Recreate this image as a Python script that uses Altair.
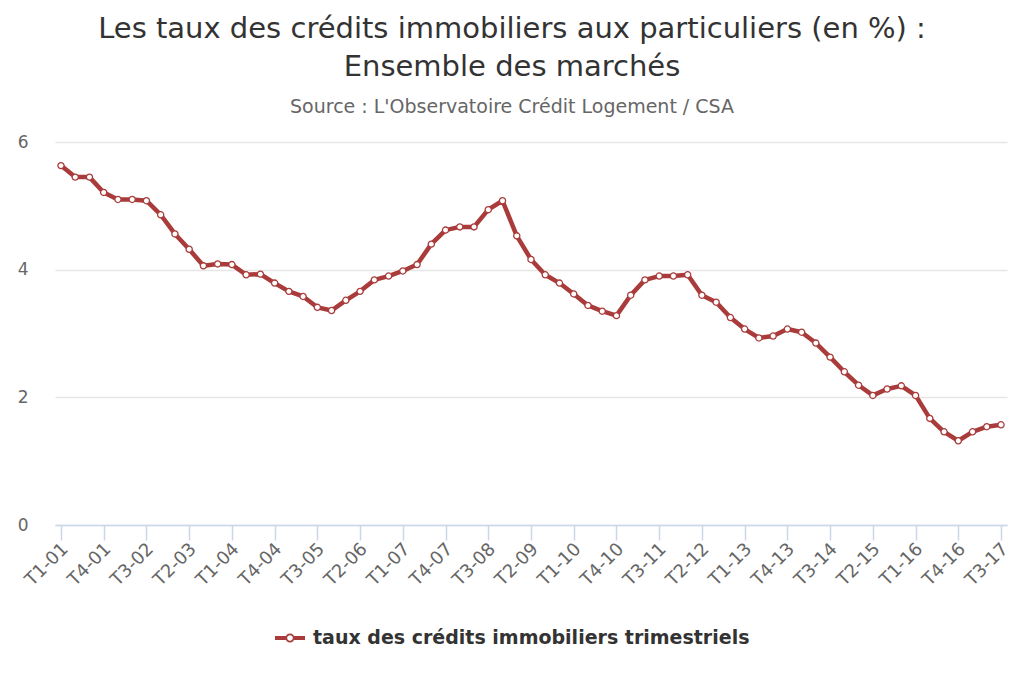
import altair as alt
import pandas as pd

years = list(range(2001, 2018))
quarters = [f"T{q}-{y % 100:02d}" for y in years for q in (1, 2, 3, 4)][:67]

taux = [
    5.63, 5.45, 5.45, 5.21, 5.10, 5.10, 5.08, 4.86, 4.56, 4.32,
    4.06, 4.09, 4.08, 3.92, 3.93, 3.79, 3.66, 3.58, 3.41, 3.36,
    3.52, 3.66, 3.84, 3.90, 3.98, 4.08, 4.40, 4.62, 4.67, 4.67,
    4.94, 5.08, 4.53, 4.16, 3.92, 3.79, 3.62, 3.44, 3.35, 3.28,
    3.60, 3.84, 3.90, 3.90, 3.92, 3.60, 3.49, 3.25, 3.07, 2.93,
    2.96, 3.07, 3.02, 2.85, 2.63, 2.40, 2.19, 2.03, 2.13, 2.18,
    2.03, 1.67, 1.46, 1.32, 1.46, 1.54, 1.57,
]
tick_labels = quarters[::3]
y_ticks = [0, 2, 4, 6]
serie = "taux des crédits immobiliers trimestriels"

df = pd.DataFrame({"trimestre": quarters, "taux": taux, "serie": serie})

RED = "#aa3b3b"
FONT = "DejaVu Sans"

LEGEND_PATH = (
    "M-1,-0.14 L-0.28,-0.14 L-0.28,0.14 L-1,0.14 Z "
    "M0.28,-0.14 L1,-0.14 L1,0.14 L0.28,0.14 Z "
    "M0.3,0 A0.3,0.3 0 1,1 -0.3,0 A0.3,0.3 0 1,1 0.3,0 Z "
    "M0.19,0 A0.19,0.19 0 1,0 -0.19,0 A0.19,0.19 0 1,0 0.19,0 Z"
)

x_enc = alt.X(
    "trimestre:O",
    sort=quarters,
    scale=alt.Scale(type="point", padding=0.42),
    axis=alt.Axis(
        title=None,
        values=tick_labels,
        labelAngle=-45,
        labelAlign="right",
        labelBaseline="middle",
        labelFont=FONT,
        labelFontSize=18,
        labelColor="#666666",
        labelPadding=6,
        labelOffset=4,
        domainColor="#ccd6eb",
        domainWidth=1.5,
        tickColor="#ccd6eb",
        tickSize=15,
        tickWidth=1.5,
        grid=False,
    ),
)
y_enc = alt.Y(
    "taux:Q",
    scale=alt.Scale(domain=[0, 6], nice=False),
    axis=alt.Axis(
        title=None,
        values=y_ticks,
        labelFont=FONT,
        labelFontSize=17,
        labelColor="#666666",
        labelPadding=27,
        domain=False,
        ticks=False,
        gridColor="#e6e6e6",
        gridWidth=1.5,
    ),
)

line = alt.Chart(df).mark_line(strokeWidth=4.5, strokeJoin="round").encode(
    x=x_enc,
    y=y_enc,
    color=alt.Color(
        "serie:N",
        scale=alt.Scale(range=[RED]),
        legend=alt.Legend(
            title=None,
            orient="none",
            legendX=220,
            legendY=481,
            symbolType=LEGEND_PATH,
            symbolSize=900,
            symbolFillColor=RED,
            symbolStrokeColor=RED,
            symbolStrokeWidth=0,
            labelFont=FONT,
            labelFontSize=19,
            labelFontWeight="bold",
            labelColor="#333333",
            labelOffset=8,
            labelLimit=0,
            padding=0,
        ),
    ),
)

points = alt.Chart(df).mark_point(
    filled=True, fill="white", stroke=RED, strokeWidth=1.3, size=38, opacity=1
).encode(x=x_enc, y=y_enc)

chart = (
    alt.layer(line, points)
    .properties(
        width=952,
        height=383,
        background="white",
        autosize=alt.AutoSizeParams(type="none"),
        padding={"left": 47, "top": 134, "right": 9, "bottom": 150},
        title=alt.TitleParams(
            text=[
                "Les taux des crédits immobiliers aux particuliers (en %) :",
                "Ensemble des marchés",
            ],
            subtitle="Source : L'Observatoire Crédit Logement / CSA",
            font=FONT,
            fontSize=29,
            fontWeight="normal",
            color="#333333",
            lineHeight=38,
            subtitleFont=FONT,
            subtitleFontSize=19,
            subtitleColor="#666666",
            subtitlePadding=16,
            anchor="middle",
            dx=-19,
            offset=16,
        ),
    )
    .configure_view(strokeWidth=0, stroke=None)
)

chart.save("out.html", embed_options={"renderer": "svg", "actions": False})
